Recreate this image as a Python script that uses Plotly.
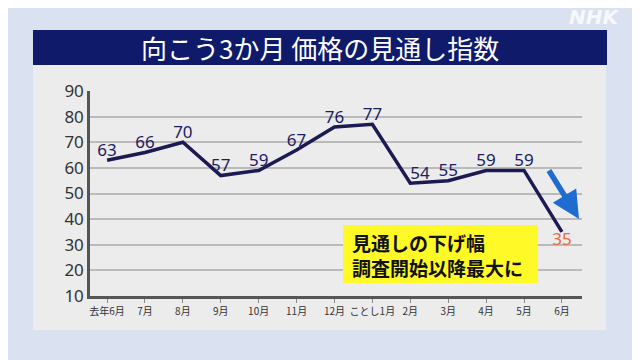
import plotly.graph_objects as go

months = ["去年6月", "7月", "8月", "9月", "10月", "11月", "12月", "ことし1月", "2月", "3月", "4月", "5月", "6月"]
values = [63, 66, 70, 57, 59, 67, 76, 77, 54, 55, 59, 59, 35]
y_ticks = [10, 20, 30, 40, 50, 60, 70, 80, 90]

OFF = 8  # page body margin
W, H = 640 - OFF, 360 - OFF
# plot area in reference pixels
L, R, T, B = 90, 582, 91, 296


def px(x):
    return (x - L) / (R - L)


def py(y):
    return (B - y) / (B - T)


xs = list(range(len(months)))
label_pos = ["top center"] * len(values)
label_pos[8] = "top right"
label_pos[-1] = "bottom center"
label_col = ["#1c2060"] * (len(values) - 1) + ["#e8693c"]

fig = go.Figure()
fig.add_trace(go.Scatter(
    x=xs, y=values, mode="lines+text",
    line=dict(color="#1b1a52", width=3.5),
    text=[str(v) for v in values],
    textposition=label_pos,
    textfont=dict(size=17, color=label_col, family="Noto Sans"),
    cliponaxis=False, hoverinfo="skip", showlegend=False,
))

shapes = [
    # panel
    dict(type="rect", xref="paper", yref="paper", x0=px(33), x1=px(606), y0=py(330), y1=py(65),
         fillcolor="#ececec", line=dict(width=0), layer="below"),
    # title band
    dict(type="rect", xref="paper", yref="paper", x0=px(33), x1=px(607), y0=py(65), y1=py(30),
         fillcolor="#0f1a6b", line=dict(width=0), layer="below"),
    # yellow box
    dict(type="rect", xref="paper", yref="paper", x0=px(343), x1=px(538), y0=py(283), y1=py(225),
         fillcolor="#fff927", line=dict(width=0), layer="above"),
]
fig.update_layout(shapes=shapes)

fig.add_annotation(xref="paper", yref="paper", x=px(320), y=py(47.5), text="向こう3か月 価格の見通し指数",
                   showarrow=False, font=dict(size=26, color="white", family="Noto Sans CJK JP"),
                   xanchor="center", yanchor="middle")
fig.add_annotation(xref="paper", yref="paper", x=px(350), y=py(255),
                   text="<b>見通しの下げ幅<br>調査開始以降最大に</b>",
                   showarrow=False, align="left",
                   font=dict(size=19, color="#111111", family="Noto Sans CJK JP"),
                   xanchor="left", yanchor="middle")
# blue arrow
fig.add_annotation(xref="paper", yref="paper", x=px(579), y=py(219), ax=-31, ay=-50,
                   axref="pixel", ayref="pixel", text="", showarrow=True,
                   arrowhead=2, arrowsize=1.0, arrowwidth=5.5, arrowcolor="#1f6cd1")
# logo
fig.add_annotation(xref="paper", yref="paper", x=px(594), y=py(17), text="<b><i>NHK</i></b>",
                   showarrow=False, font=dict(size=20, color="rgba(255,255,255,0.8)", family="DejaVu Sans"),
                   xanchor="center", yanchor="middle")

fig.update_xaxes(range=[-0.45, 12.53], tickvals=xs, ticktext=months, showgrid=False,
                 showline=True, linecolor="#555555", linewidth=2.5, ticks="outside", ticklen=4,
                 tickcolor="#888888", tickfont=dict(size=10, color="#333333", family="Noto Sans CJK JP"),
                 zeroline=False, fixedrange=True)
fig.update_yaxes(range=[10, 90], tickvals=y_ticks, showgrid=True, gridcolor="#bababa", gridwidth=1.5,
                 showline=True, linecolor="#555555", linewidth=2.5,
                 tickfont=dict(size=17, color="#333333", family="Noto Sans"),
                 zeroline=False, fixedrange=True)

fig.update_layout(width=W, height=H,
                  margin=dict(l=L - OFF, r=W - (R - OFF), t=T - OFF, b=H - (B - OFF)),
                  paper_bgcolor="#dae2f2", plot_bgcolor="rgba(0,0,0,0)")

fig.write_html("out.html")
